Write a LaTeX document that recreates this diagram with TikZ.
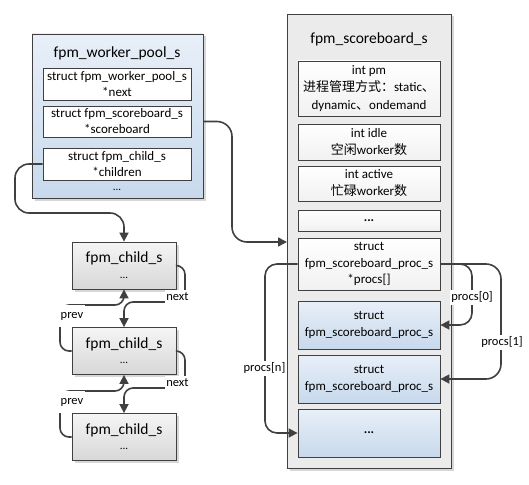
\documentclass[tikz,border=0pt]{standalone}
\usepackage{fontspec}
\setmainfont{Carlito}
\newfontfamily\cjk{Noto Sans CJK SC}
\usetikzlibrary{arrows.meta,shadows}
\definecolor{ln}{HTML}{404040}
\definecolor{blueT}{HTML}{E8EFF8}
\definecolor{blueB}{HTML}{C7D9EC}
\definecolor{grayT}{HTML}{F5F5F5}
\definecolor{grayB}{HTML}{D7D7D7}
\definecolor{sbfill}{HTML}{EBEBEB}
\definecolor{wB}{HTML}{F1F1F1}
\begin{document}
\begin{tikzpicture}[x=1pt,y=-1pt,
  box/.style={draw=ln, line width=0.8pt, inner sep=0pt, align=center,
    font=\fontsize{13}{16}\selectfont},
  shad/.style={drop shadow={shadow xshift=2.5pt, shadow yshift=-2.5pt, fill=black!45, opacity=0.35}},
  poolbox/.style={box, top color=blueT, bottom color=blueB, shad},
  wbox/.style={box, fill=white},
  sbbox/.style={box, fill=sbfill, shad},
  sbwbox/.style={box, top color=white, bottom color=wB},
  childbox/.style={box, top color=grayT, bottom color=grayB, shad},
  procbox/.style={box, top color=blueT, bottom color=blueB},
  ttl/.style={font=\fontsize{15.5}{18}\selectfont, inner sep=0pt},
  txt/.style={font=\fontsize{13}{16}\selectfont, inner sep=0pt},
  conn/.style={draw=ln, line width=1.6pt, rounded corners=#1},
  conn/.default=14pt,
  tip/.style={-{Triangle[length=9pt,width=9pt]}},
  lbl/.style={font=\fontsize{12.5}{14}\selectfont, fill=white, inner xsep=1.5pt, inner ysep=0pt}
]
\useasboundingbox (0,0) rectangle (529,484);

% ---------- worker pool ----------
\node[poolbox, minimum width=171pt, minimum height=164pt] (pool) at (117.5,116) {};
\node[ttl] (pooltitle) at (117,53) {fpm\_worker\_pool\_s};
\node[wbox, minimum width=148pt, minimum height=32pt] (pnext) at (117,84)
  {struct fpm\_worker\_pool\_s\\*next};
\node[wbox, minimum width=148pt, minimum height=31pt] (psb) at (117,121.5)
  {struct fpm\_scoreboard\_s\\*scoreboard};
\node[wbox, minimum width=148pt, minimum height=32pt] (pch) at (117,164)
  {struct fpm\_child\_s\\*children};
\node[txt, font=\fontsize{11}{12}\selectfont] (pooldots) at (117,190) {...};

% ---------- scoreboard ----------
\node[sbbox, minimum width=164pt, minimum height=454pt] (sb) at (369,241) {};
\node[ttl] (sbtitle) at (369,39) {fpm\_scoreboard\_s};
\node[sbwbox, minimum width=142pt, minimum height=55pt, font=\fontsize{13}{17.5}\selectfont] (pm) at (369,88.5)
  {int pm\\{\cjk 进程管理方式：}static{\cjk 、}\\dynamic{\cjk 、}ondemand};
\node[sbwbox, minimum width=142pt, minimum height=36pt, font=\fontsize{13}{17}\selectfont] (idle) at (369,142)
  {int idle\\{\cjk 空闲}worker{\cjk 数}};
\node[sbwbox, minimum width=142pt, minimum height=35pt, font=\fontsize{13}{17}\selectfont] (active) at (369,183.5)
  {int active\\{\cjk 忙碌}worker{\cjk 数}};
\node[sbwbox, minimum width=142pt, minimum height=21pt, font=\bfseries\fontsize{13}{16}\selectfont] (sbdots) at (369,220.5) {...};
\node[sbwbox, minimum width=142pt, minimum height=52pt, font=\fontsize{13}{16.5}\selectfont] (procs) at (369,264)
  {struct\\fpm\_scoreboard\_proc\_s\\*procs[]};
\node[procbox, minimum width=142pt, minimum height=48pt, font=\fontsize{13}{16.5}\selectfont] (p0) at (369,325)
  {struct\\fpm\_scoreboard\_proc\_s};
\node[procbox, minimum width=142pt, minimum height=48pt, font=\fontsize{13}{16.5}\selectfont] (p1) at (369,379)
  {struct\\fpm\_scoreboard\_proc\_s};
\node[procbox, minimum width=142pt, minimum height=48pt, font=\bfseries\fontsize{13}{16}\selectfont] (pn) at (369,433) {...};

% ---------- children ----------
\foreach \n/\y in {c1/265.5, c2/351, c3/437}{
  \node[childbox, minimum width=104pt, minimum height=47pt] (\n) at (124,\y) {};
  \node[ttl] (\n t) at ([yshift=-17pt]\n.north) {fpm\_child\_s};
  \node[txt, font=\fontsize{11}{12}\selectfont] (\n d) at ([yshift=-36pt]\n.north) {...};
}

% ---------- connectors ----------
\draw[conn, tip] (pch.west) -- (15,164) -- (15,213) -- (124,213) -- (c1.north);
\coordinate (sbin) at (287,242);
\draw[conn=15pt, tip] (pool.east |- psb.east) -- (232,121.5) -- (232,242) -- (sbin);

% next / prev pairs
\draw[conn=9pt, tip] (c1.east) -- (185,265.5) -- (185,302) -- (124,302) -- (c2.north);
\node[lbl, minimum height=14pt] (next1) at (177.5,297) {next};
\draw[conn=9pt, tip] (c2.west) -- (60,351) -- (60,305) -- (124,305) -- (c1.south);
\node[lbl, minimum height=22pt] (prev1) at (72,316) {prev};

\draw[conn=9pt, tip] (c2.east) -- (185,351) -- (185,388) -- (124,388) -- (c3.north);
\node[lbl, minimum height=14pt] (next2) at (177.5,383) {next};
\draw[conn=9pt, tip] (c3.west) -- (60,437) -- (60,391) -- (124,391) -- (c2.south);
\node[lbl, minimum height=22pt] (prev2) at (72,402) {prev};

% procs arrows
\draw[conn=12pt, tip] (procs.east) -- (472,264) -- (472,325) -- (p0.east);
\node[lbl, minimum height=15pt] (lp0) at (472,297) {procs[0]};
\draw[conn=15pt, tip] (procs.east) -- (501,264) -- (501,379) -- (p1.east);
\node[lbl, minimum height=15pt] (lp1) at (502,342) {procs[1]};
\draw[conn=12pt, tip] (procs.west) -- (265,264) -- (265,433) -- (pn.west);
\node[lbl, minimum height=15pt] (lpn) at (264.5,368) {procs[n]};
\end{tikzpicture}
\end{document}
